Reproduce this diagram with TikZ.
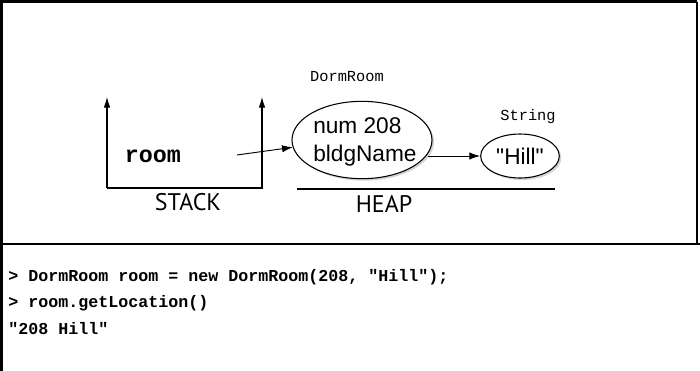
\documentclass[tikz,border=0pt]{standalone}
\usepackage{fontspec}
\setmainfont{Liberation Sans}
\newfontfamily\fieldfont{Liberation Sans}
\newfontfamily\codefont{Liberation Mono}
\newfontfamily\handfont{PT Sans}
\usetikzlibrary{arrows.meta,shapes.geometric,shadows,positioning}

\tikzset{
  objnode/.style={ellipse, draw, line width=0.8pt, fill=white,
    drop shadow={shadow xshift=1.5pt, shadow yshift=-1.5pt, opacity=0.35, fill=gray}},
  ptr/.style={line width=0.7pt, -{Latex[length=8pt,width=5.5pt]}},
  classlbl/.style={font=\codefont\fontsize{11.5}{13}\selectfont, inner sep=0pt},
  arealbl/.style={font=\handfont\fontsize{18}{20}\selectfont, inner sep=0pt},
  fieldtxt/.style={font=\fieldfont\fontsize{17}{19}\selectfont, inner sep=0pt, anchor=west},
  codeline/.style={font=\codefont\bfseries\fontsize{12.5}{14}\selectfont, inner sep=0pt, anchor=west}
}

\begin{document}
\begin{tikzpicture}[x=0.75pt,y=-0.75pt]
	\useasboundingbox (0,0) rectangle (700,371);

	% frame round the picture and the console below it
	\draw[line width=2.2pt] (1.5,371) -- (1.5,1.5) -- (697,1.5);
	\draw[line width=1.5pt] (697,1.5) -- (697,244);
	\draw[line width=1.3pt] (0,244) -- (700,244);

	% stack frame
	\coordinate (stacktl) at (107,97);
	\coordinate (stackbl) at (107,188);
	\coordinate (stackbr) at (262,188);
	\coordinate (stacktr) at (262,97);
	\draw[line width=0.8pt, -{Latex[length=8pt,width=5pt]}] (stackbl) -- (stacktl);
	\draw[line width=0.8pt, -{Latex[length=8pt,width=5pt]}] (stackbl) -- (stackbr) -- (stacktr);
	\node[arealbl] (stacklbl) at (188,202) {STACK};
	\node[font=\codefont\bfseries\fontsize{17.5}{20}\selectfont, inner sep=0pt] (roomvar) at (153,156) {room};

	% heap objects
	\node[objnode, minimum width=105pt, minimum height=58pt] (dormobj) at (362,140) {};
	\node[classlbl] (dormlbl) at (347,77) {DormRoom};
	\node[fieldtxt] (numfield) at (313,126) {num 208};
	\node[fieldtxt] (namefield) at (313,156) {bldgName};

	\node[objnode, minimum width=59pt, minimum height=33pt, inner sep=0pt,
	      font=\fieldfont\fontsize{17}{19}\selectfont] (hillobj) at (520,156) {"Hill"};
	\node[classlbl] (stringlbl) at (528,117) {String};

	\coordinate (heapleft) at (297,189);
	\coordinate (heapright) at (555,189);
	\draw[line width=0.8pt] (heapleft) -- (heapright);
	\node[arealbl] (heaplbl) at (384,204) {HEAP};

	% references
	\coordinate (roomref) at (237,155);
	\draw[ptr] (roomref) -- (dormobj.186);
	\draw[ptr, shorten <=8pt] (namefield.east) -- (hillobj.west);

	% console session
	\node[codeline] (cmdone) at (8,277) {> DormRoom room = new DormRoom(208, "Hill");};
	\node[codeline] (cmdtwo) at (8,303) {> room.getLocation()};
	\node[codeline] (result) at (8,329) {"208 Hill"};
\end{tikzpicture}
\end{document}
